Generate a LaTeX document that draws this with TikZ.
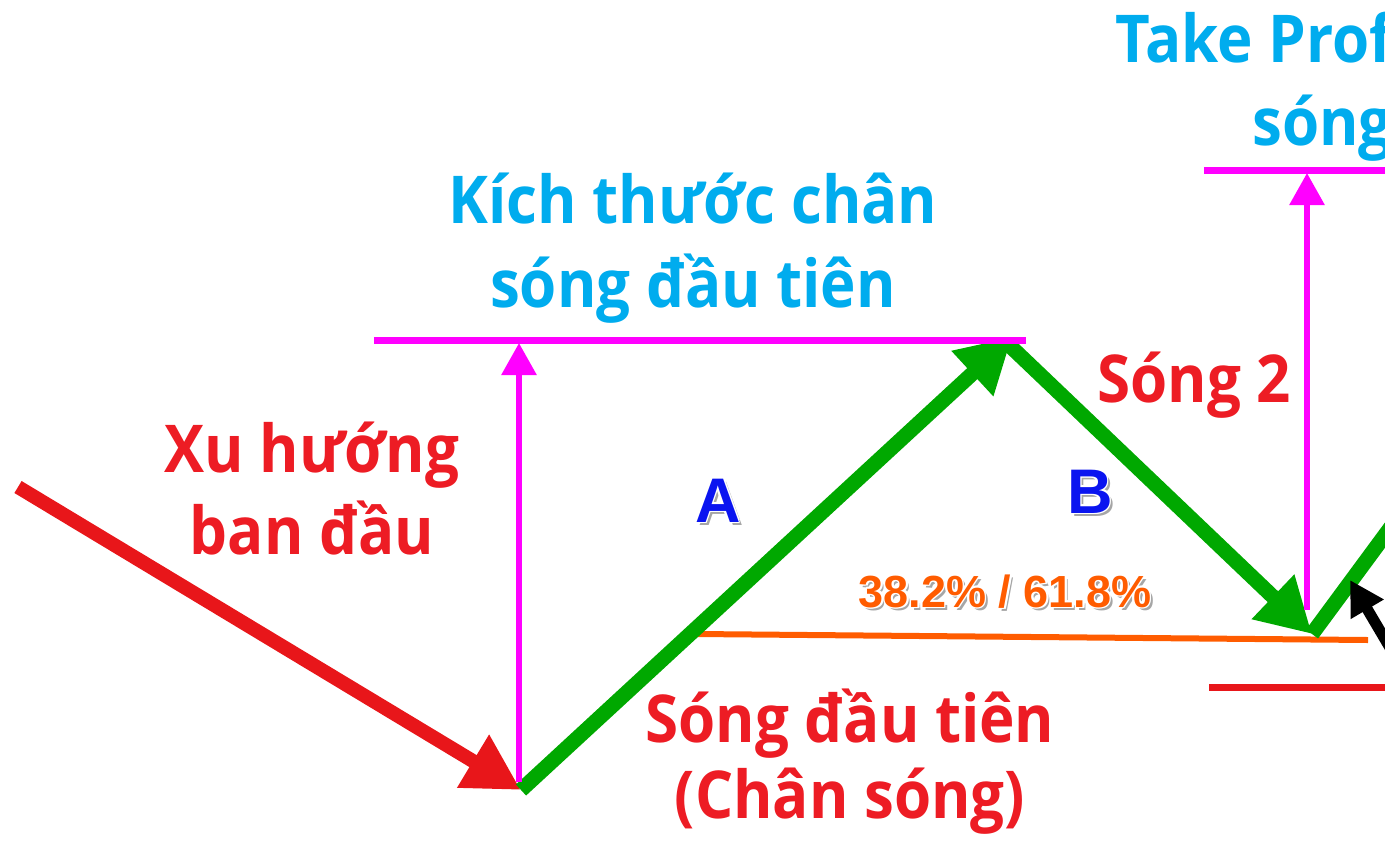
\documentclass[tikz,border=0pt]{standalone}
\usepackage{fontspec}
\setmainfont{Open Sans}[FakeStretch=0.91]
\newfontfamily\arialfont{Liberation Sans}
\usepackage{xcolor}
\usetikzlibrary{arrows.meta,calc}
\definecolor{trendred}{RGB}{232,22,26}
\definecolor{textred}{RGB}{237,28,36}
\definecolor{wavegreen}{RGB}{0,168,0}
\definecolor{skyblue}{RGB}{0,172,238}
\definecolor{fibo}{RGB}{255,92,0}
\definecolor{letterblue}{RGB}{10,20,240}
\definecolor{sizepink}{RGB}{255,0,255}
\tikzset{
  bigtxt/.style={font=\bfseries\fontsize{33}{40}\selectfont, inner sep=0pt, anchor=base},
  skytxt/.style={bigtxt, text=skyblue},
  redtxt/.style={bigtxt, text=textred},
  lettertxt/.style={font=\arialfont\bfseries\fontsize{31.5}{36}\selectfont, inner sep=0pt, anchor=base, text=letterblue},
  pcttxt/.style={font=\arialfont\bfseries\fontsize{22.5}{26}\selectfont, inner sep=0pt, anchor=base, text=fibo},
  wave/.style={wavegreen, line width=7.5pt, -{Triangle[length=27pt,width=29pt]}},
  measure/.style={sizepink, line width=3pt, -{Triangle[length=16pt,width=17pt]}},
  level/.style={line width=3.5pt},
}
% text with a white rim and a grey drop shadow
\newcommand{\glownode}[4]{%
  \node[#2, text=black!35] at ($#3+(3,3.5)$) {#4};
  \foreach \dx/\dy in {-1.5/0,1.5/0,0/-1.5,0/1.5,1.5/1.5,-1.5/1.5,1.5/-1.5,-1.5/-1.5}
    \node[#2, text=white] at ($#3+(\dx,\dy)$) {#4};
  \node[#2] (#1) at #3 {#4};
}

\begin{document}
\begin{tikzpicture}[x=0.5pt, y=-0.5pt]
  \useasboundingbox (0,0) rectangle (1385,841);
  % turning points of the waves
  \coordinate (start) at (18,487);
  \coordinate (low1) at (521,790);
  \coordinate (peak) at (1012,337);
  \coordinate (peakR) at (1008,344);
  \coordinate (low2) at (1312,634);
  \coordinate (out) at (1402,512);
  % reference levels
  \draw[fibo, line width=3pt] (697,634) coordinate (fiboL) -- (1368,640) coordinate (fiboR);
  \draw[trendred, level] (1209,687) coordinate (stopL) -- (1400,687) coordinate (stopR);
  % initial trend and the waves
  \draw[trendred, line width=7pt, -{Triangle[length=28pt,width=29pt]}] (start) -- (low1);
  \draw[wave] (low1) -- (peak);
  \draw[wave] (peakR) -- (low2);
  \draw[wavegreen, line width=7.5pt] (low2) -- (out);
  % wave size
  \draw[sizepink, level] (374,340) coordinate (topL) -- (1026,340) coordinate (topR);
  \draw[measure] (519,782) coordinate (baseA) -- (519,343) coordinate (tipA);
  \draw[sizepink, level] (1204,170) coordinate (tpL) -- (1400,170) coordinate (tpR);
  \draw[measure] (1307,610) coordinate (baseB) -- (1307,173) coordinate (tipB);
  \draw[black, line width=5.5pt, -{Triangle[length=17pt,width=18pt]}] (1402,668) coordinate (entry) -- (1350,580) coordinate (entryTip);
  % labels
  \node[skytxt] (kich1) at (693,223) {Kích thước chân};
  \node[skytxt] (kich2) at (693,307) {sóng đầu tiên};
  \node[redtxt] (xu1) at (312,472) {Xu hướng};
  \node[redtxt] (xu2) at (312,554) {ban đầu};
  \node[redtxt] (first1) at (850,742) {Sóng đầu tiên};
  \node[redtxt] (first2) at (850,818) {(Chân sóng)};
  \node[redtxt, anchor=base west] (wave2) at (1097,402) {Sóng 2};
  \node[skytxt, anchor=base west] (tp1) at (1115,62) {Take Prof};
  \node[skytxt, anchor=base west] (tp2) at (1252,145) {sóng};
  \glownode{legA}{lettertxt}{(718,522)}{A}
  \glownode{legB}{lettertxt}{(1090,513)}{B}
  \glownode{ratio}{pcttxt}{(1005,607)}{38.2\% / 61.8\%}
\end{tikzpicture}
\end{document}
